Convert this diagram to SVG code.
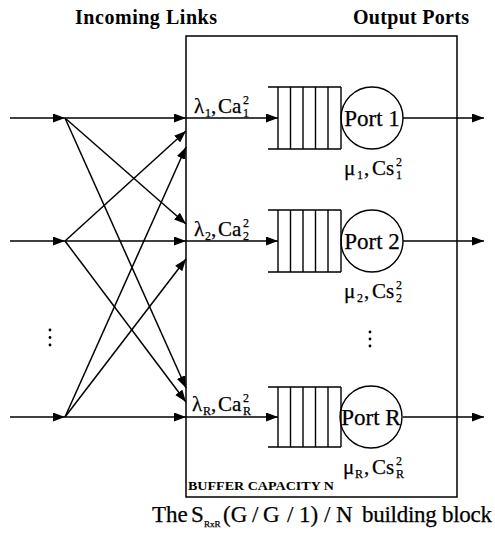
<svg xmlns="http://www.w3.org/2000/svg" width="495" height="534" viewBox="0 0 495 534">
<style>
text{font-family:"Liberation Serif","Times New Roman",serif;fill:#000;stroke:#000;stroke-width:0.25}
.hd{font-size:20px;font-weight:bold;stroke-width:0}
.ln{stroke:#000;stroke-width:1.5;fill:none}
.q{stroke:#000;stroke-width:1.4;fill:none}
.port{font-size:23px;text-anchor:middle}
.lb{font-size:21px}
.sm{font-size:12px}
.buf{font-size:11.5px;font-weight:bold;stroke-width:0}
.cap{font-size:23px}
</style>
<defs>
<marker id="ah" markerWidth="12" markerHeight="9" refX="12" refY="4.5" orient="auto" markerUnits="userSpaceOnUse">
<path d="M0,0 L12,4.5 L0,9 z" fill="#000"/>
</marker>
</defs>
<rect fill="#fff" x="0" y="0" width="495" height="534"/>

<text class="hd" x="75" y="24" textLength="142">Incoming Links</text>
<text class="hd" x="353" y="24" textLength="116">Output Ports</text>

<g id="switch-box">
<rect class="ln" x="186" y="36" width="271" height="461"/>
<text class="buf" x="188" y="490" textLength="146" lengthAdjust="spacingAndGlyphs">BUFFER CAPACITY N</text>
</g>

<g id="connectors" class="ln" marker-end="url(#ah)">
<line x1="10" y1="118" x2="65" y2="118"/>
<line x1="10" y1="241" x2="65" y2="241"/>
<line x1="10" y1="417" x2="65" y2="417"/>
<line x1="65" y1="118" x2="186" y2="118"/>
<line x1="65" y1="241" x2="186" y2="241"/>
<line x1="65" y1="417" x2="186" y2="417"/>
<line x1="65" y1="118" x2="186" y2="224"/>
<line x1="65" y1="118" x2="186" y2="388"/>
<line x1="65" y1="241" x2="186" y2="131"/>
<line x1="65" y1="241" x2="186" y2="402"/>
<line x1="65" y1="417" x2="186" y2="147"/>
<line x1="65" y1="417" x2="186" y2="259"/>
<line x1="186" y1="118" x2="278" y2="118"/>
<line x1="186" y1="241" x2="278" y2="241"/>
<line x1="186" y1="417" x2="278" y2="417"/>
<line x1="403" y1="118" x2="484" y2="118"/>
<line x1="403" y1="241" x2="484" y2="241"/>
<line x1="403" y1="417" x2="484" y2="417"/>
</g>

<g id="port1">
<path class="q" d="M268,87 H341 M268,149 H341 M278,87 V149 M290.5,87 V149 M303,87 V149 M315.5,87 V149 M328,87 V149 M341,87 V149"/>
<circle class="q" cx="372" cy="118" r="31"/>
<text class="port" x="372" y="126">Port 1</text>
<text class="lb" x="194" y="113">λ</text><text class="sm" x="205" y="117">1</text><text class="lb" x="211" y="113">,</text><text class="lb" x="218" y="113">Ca</text><text class="sm" x="243" y="104">2</text><text class="sm" x="243" y="117">1</text>
<text class="lb" x="344" y="175">μ</text><text class="sm" x="357" y="179">1</text><text class="lb" x="364" y="175">,</text><text class="lb" x="372" y="175">Cs</text><text class="sm" x="396" y="166">2</text><text class="sm" x="396" y="179">1</text>
</g>

<g id="port2">
<path class="q" d="M268,210 H341 M268,272 H341 M278,210 V272 M290.5,210 V272 M303,210 V272 M315.5,210 V272 M328,210 V272 M341,210 V272"/>
<circle class="q" cx="372" cy="241" r="31"/>
<text class="port" x="372" y="249">Port 2</text>
<text class="lb" x="194" y="236">λ</text><text class="sm" x="205" y="240">2</text><text class="lb" x="211" y="236">,</text><text class="lb" x="218" y="236">Ca</text><text class="sm" x="243" y="227">2</text><text class="sm" x="243" y="240">2</text>
<text class="lb" x="344" y="298">μ</text><text class="sm" x="357" y="302">2</text><text class="lb" x="364" y="298">,</text><text class="lb" x="372" y="298">Cs</text><text class="sm" x="396" y="289">2</text><text class="sm" x="396" y="302">2</text>
</g>

<g id="portR">
<path class="q" d="M268,387 H341 M268,447 H341 M278,387 V447 M290.5,387 V447 M303,387 V447 M315.5,387 V447 M328,387 V447 M341,387 V447"/>
<circle class="q" cx="371" cy="417" r="31"/>
<text class="port" x="371" y="425">Port R</text>
<text class="lb" x="192" y="411">λ</text><text class="sm" x="203" y="415">R</text><text class="lb" x="211" y="411">,</text><text class="lb" x="218" y="411">Ca</text><text class="sm" x="243" y="402">2</text><text class="sm" x="243" y="415">R</text>
<text class="lb" x="343" y="474">μ</text><text class="sm" x="355" y="478">R</text><text class="lb" x="364" y="474">,</text><text class="lb" x="372" y="474">Cs</text><text class="sm" x="396" y="465">2</text><text class="sm" x="396" y="478">R</text>
</g>

<g id="ellipsis">
<circle cx="50" cy="330" r="1.4"/><circle cx="50" cy="337.5" r="1.4"/><circle cx="50" cy="345" r="1.4"/>
<circle cx="370" cy="332" r="1.4"/><circle cx="370" cy="339" r="1.4"/><circle cx="370" cy="346" r="1.4"/>
</g>

<g id="caption">
<text class="cap" y="522"><tspan x="152">The</tspan><tspan x="191">S</tspan><tspan x="204" dy="5" font-size="9">RxR</tspan><tspan x="223" dy="-5">(G</tspan><tspan x="252">/</tspan><tspan x="263">G</tspan><tspan x="287">/</tspan><tspan x="299">1)</tspan><tspan x="324">/</tspan><tspan x="336">N</tspan><tspan x="362" textLength="130">building block</tspan></text>
</g>
</svg>
